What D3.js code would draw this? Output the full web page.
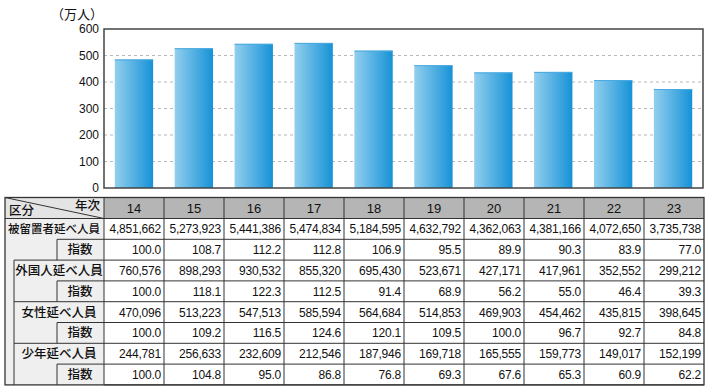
<!DOCTYPE html>
<html><head><meta charset="utf-8">
<script src="https://cdn.jsdelivr.net/npm/d3@7/dist/d3.min.js"></script>
<style>
body{margin:0;background:#fff;}
svg{display:block;}
</style></head>
<body><svg id="c" width="710" height="390"></svg>
<script>
const years = ["14","15","16","17","18","19","20","21","22","23"];
const detainedTotal = [4851662,5273923,5441386,5474834,5184595,4632792,4362063,4381166,4072650,3735738];
const detainedIndex = ["100.0","108.7","112.2","112.8","106.9","95.5","89.9","90.3","83.9","77.0"];
const foreignTotal = [760576,898293,930532,855320,695430,523671,427171,417961,352552,299212];
const foreignIndex = ["100.0","118.1","122.3","112.5","91.4","68.9","56.2","55.0","46.4","39.3"];
const femaleTotal = [470096,513223,547513,585594,564684,514853,469903,454462,435815,398645];
const femaleIndex = ["100.0","109.2","116.5","124.6","120.1","109.5","100.0","96.7","92.7","84.8"];
const juvenileTotal = [244781,256633,232609,212546,187946,169718,165555,159773,149017,152199];
const juvenileIndex = ["100.0","104.8","95.0","86.8","76.8","69.3","67.6","65.3","60.9","62.2"];
const yTicks = [0,100,200,300,400,500,600];
const unitLabel = "（万人）";
const rowLabels = ["被留置者延べ人員","指数","外国人延べ人員","指数","女性延べ人員","指数","少年延べ人員","指数"];

const svg = d3.select("#c");
const fmt = d3.format(",");
const numFont = "'Liberation Sans', Arial, sans-serif";
const jpFont = "'Noto Sans CJK JP', sans-serif";

// ---- bar chart ----
const L = 104, R = 703, T = 29, B = 188;
const x = d3.scaleBand().domain(years).range([L, R]).paddingInner(0.36).paddingOuter(0.18);
const y = d3.scaleLinear().domain([0, 600]).range([B, T]);

const defs = svg.append("defs");
const g = defs.append("linearGradient").attr("id","bg").attr("x1","0").attr("x2","1").attr("y1","0").attr("y2","0");
g.append("stop").attr("offset","0").attr("stop-color","#92cfee");
g.append("stop").attr("offset","1").attr("stop-color","#1692d7");

svg.append("g").selectAll("line").data(yTicks.filter(d => d > 0 && d < 600)).join("line")
  .attr("x1", L).attr("x2", R).attr("y1", d => y(d)).attr("y2", d => y(d))
  .attr("stroke", "#b8b8b8").attr("stroke-width", 1).attr("stroke-dasharray", "3,3");

const bars = svg.append("g");
bars.selectAll("rect").data(years).join("rect")
  .attr("x", d => x(d)).attr("width", x.bandwidth())
  .attr("y", (d,i) => y(detainedTotal[i] / 10000))
  .attr("height", (d,i) => B - y(detainedTotal[i] / 10000))
  .attr("fill", "url(#bg)");
bars.selectAll("line").data(years).join("line")
  .attr("x1", d => x(d)).attr("x2", d => x(d) + x.bandwidth())
  .attr("y1", (d,i) => y(detainedTotal[i] / 10000) + 0.5)
  .attr("y2", (d,i) => y(detainedTotal[i] / 10000) + 0.5)
  .attr("stroke", "#4aa9e0").attr("stroke-width", 1);

svg.append("rect").attr("x", L).attr("y", T).attr("width", R - L).attr("height", B - T)
  .attr("fill", "none").attr("stroke", "#444").attr("stroke-width", 1.5);

const yAxis = d3.axisLeft(y).tickValues(yTicks).tickSize(0).tickPadding(5);
const ya = svg.append("g").attr("transform", `translate(${L},0)`).call(yAxis);
ya.select(".domain").remove();
ya.selectAll("text").attr("font-family", numFont).attr("font-size", 12).attr("fill", "#111");

svg.append("text").attr("x", 103).attr("y", 19).attr("text-anchor", "end")
  .attr("font-family", jpFont).attr("font-size", 13).attr("fill", "#111").text(unitLabel);

// ---- table ----
const TL = 5, TR = 704, TT = 197.5, HH = 21, RH = 20.8;
const col = d3.scaleBand().domain(years).range([L, TR]);
const rowY = i => TT + HH + i * RH;
const TB = rowY(8);
const tg = svg.append("g");

// backgrounds
tg.append("rect").attr("x", TL).attr("y", TT).attr("width", L - TL).attr("height", HH).attr("fill", "#e4e4e4");
tg.append("rect").attr("x", L).attr("y", TT).attr("width", TR - L).attr("height", HH).attr("fill", "#b5b5b5");
tg.append("rect").attr("x", TL).attr("y", TT + HH).attr("width", L - TL).attr("height", TB - TT - HH).attr("fill", "#efefef");

const line = (x1, y1, x2, y2, w) => tg.append("line").attr("x1", x1).attr("y1", y1).attr("x2", x2).attr("y2", y2)
  .attr("stroke", "#333").attr("stroke-width", w || 1);

// header
line(TL, TT, L, TT + HH, 1);
tg.append("text").attr("x", 9).attr("y", TT + 17.5).attr("font-family", jpFont).attr("font-size", 12.5).attr("font-weight", 500).attr("fill", "#111").text("区分");
tg.append("text").attr("x", 100).attr("y", TT + 12.5).attr("text-anchor", "end").attr("font-family", jpFont).attr("font-size", 12.5).attr("font-weight", 500).attr("fill", "#111").text("年次");
tg.selectAll("text.yr").data(years).join("text").attr("class", "yr")
  .attr("x", d => col(d) + col.bandwidth() / 2).attr("y", TT + HH / 2 + 5)
  .attr("text-anchor", "middle").attr("font-family", numFont).attr("font-size", 13).attr("fill", "#111").text(d => d);

// horizontal lines across data cols
for (let i = 0; i <= 8; i++) line(L, rowY(i), TR, rowY(i), 1);
// col0 structure
line(TL, rowY(0), L, rowY(0), 1);
[1,3,5,7].forEach(i => { line(57, rowY(i), L, rowY(i), 1); line(57, rowY(i), 57, rowY(i + 1), 1); });
[2,4,6].forEach(i => line(14, rowY(i), L, rowY(i), 1));
line(14, rowY(2), 14, TB, 1);
// column verticals
years.forEach(d => line(col(d), TT, col(d), TB, 1));
// outer border
tg.append("rect").attr("x", TL).attr("y", TT).attr("width", TR - TL).attr("height", TB - TT)
  .attr("fill", "none").attr("stroke", "#333").attr("stroke-width", 1.3);

// row labels
const labelX = [54, 80, 59, 80, 59, 80, 59, 80];
rowLabels.forEach((t, i) => {
  tg.append("text").attr("x", labelX[i]).attr("y", rowY(i) + RH / 2 + 4.5).attr("text-anchor", "middle")
    .attr("font-family", jpFont).attr("font-size", i === 0 ? 11.5 : 12.5).attr("font-weight", 500).attr("fill", "#111").text(t);
});

// data cells
const rows = [detainedTotal.map(fmt), detainedIndex, foreignTotal.map(fmt), foreignIndex,
              femaleTotal.map(fmt), femaleIndex, juvenileTotal.map(fmt), juvenileIndex];
rows.forEach((vals, i) => {
  tg.append("g").selectAll("text").data(vals).join("text")
    .attr("x", (d, j) => col(years[j]) + col.bandwidth() - 3).attr("y", rowY(i) + RH / 2 + 4.5)
    .attr("text-anchor", "end").attr("font-family", numFont).attr("font-size", 12)
    .attr("letter-spacing", "-0.2px").attr("fill", "#111").text(d => d);
});
</script></body></html>
